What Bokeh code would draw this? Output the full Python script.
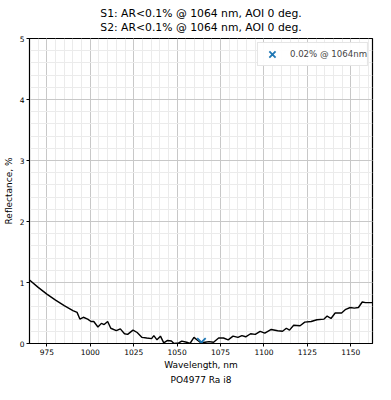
from bokeh.plotting import figure
from bokeh.models import Title, SingleIntervalTicker, Range1d
from bokeh.embed import file_html
from bokeh.resources import INLINE

title_line1 = "S1: AR<0.1% @ 1064 nm, AOI 0 deg."
title_line2 = "S2: AR<0.1% @ 1064 nm, AOI 0 deg."
footer = "PO4977 Ra i8"
x_label = "Wavelength, nm"
y_label = "Reflectance, %"

wavelength = [965, 970, 975, 980, 985, 990, 992.4, 994, 996, 998.5, 1000.4, 1002,
              1004.4, 1006.4, 1008, 1010, 1011.8, 1015, 1017.3, 1019.7, 1021.5,
              1024.6, 1027, 1029.8, 1032.5, 1035.3, 1036.6, 1038.4, 1040.4, 1042.3,
              1044.5, 1046.7, 1048.2, 1050.9, 1052.7, 1055.5, 1057.4, 1059.7, 1061.9,
              1063.8, 1066, 1068.4, 1071, 1073.9, 1076.7, 1079.4, 1082.2, 1085,
              1087.3, 1089.5, 1092.3, 1095, 1097.8, 1100.5, 1104.2, 1107.9, 1110.7,
              1112.9, 1114.7, 1117.1, 1120.8, 1123.5, 1127.2, 1130.5, 1134.6, 1136.4,
              1138.6, 1141, 1144.7, 1147.1, 1149.7, 1152, 1154.4, 1156.6, 1158.5, 1162.2]
reflectance = [1.04, 0.92, 0.81, 0.71, 0.62, 0.54, 0.51, 0.40, 0.43, 0.40, 0.36, 0.36,
               0.27, 0.33, 0.31, 0.36, 0.25, 0.21, 0.24, 0.16, 0.15,
               0.22, 0.18, 0.10, 0.09, 0.08, 0.13, 0.06, 0.12, 0.01,
               0.05, 0.04, 0.00, 0.01, 0.04, 0.02, 0.00, 0.10, 0.05,
               0.01, 0.02, 0.03, 0.02, 0.09, 0.09, 0.06, 0.12, 0.10,
               0.13, 0.11, 0.16, 0.15, 0.20, 0.17, 0.23, 0.21, 0.20,
               0.25, 0.22, 0.30, 0.29, 0.35, 0.36, 0.39, 0.40, 0.45,
               0.41, 0.50, 0.50, 0.56, 0.59, 0.58, 0.59, 0.68, 0.67, 0.67]

marker_x = [1064]
marker_y = [0.02]
marker_label = "0.02% @ 1064nm"

FONT = "DejaVu Sans"

p = figure(width=375, height=384, output_backend="svg", toolbar_location=None,
           x_range=Range1d(965, 1162.5), y_range=Range1d(0, 5),
           min_border_left=0, min_border_right=3, min_border_top=0, min_border_bottom=0)

p.add_layout(Title(text=title_line1 + "\n" + title_line2, align="center",
                   text_font_size="10.8px", text_line_height=1.1,
                   text_font_style="normal", text_font=FONT, text_color="#000000",
                   standoff=9), "above")
p.add_layout(Title(text=footer, align="center", text_font_size="9px",
                   text_font_style="normal", text_font=FONT, text_color="#000000",
                   standoff=0), "below")

p.line(wavelength, reflectance, line_color="black", line_width=1.4)
p.scatter(marker_x, marker_y, marker="x", size=12, line_color="#1f77b4",
          line_width=1.8, legend_label=marker_label)

p.xaxis.ticker = SingleIntervalTicker(interval=25, num_minor_ticks=5)
p.yaxis.ticker = SingleIntervalTicker(interval=1, num_minor_ticks=5)
p.xaxis.axis_label = x_label
p.yaxis.axis_label = y_label
for ax in (p.xaxis, p.yaxis):
    ax.axis_label_text_font = FONT
    ax.axis_label_text_font_size = "9px"
    ax.axis_label_text_font_style = "normal"
    ax.axis_label_text_color = "black"
    ax.axis_label_standoff = 3
    ax.major_label_text_font = FONT
    ax.major_label_text_font_size = "7.5px"
    ax.major_label_text_color = "black"
    ax.major_tick_out = 3
    ax.major_tick_in = 0
    ax.minor_tick_out = 0
    ax.minor_tick_in = 0
    ax.axis_line_color = "black"
    ax.major_label_standoff = 2
p.xaxis.axis_label_standoff = 2

p.xgrid.grid_line_color = "#c8c8c8"
p.ygrid.grid_line_color = "#c8c8c8"
p.xgrid.minor_grid_line_color = "#ebebeb"
p.ygrid.minor_grid_line_color = "#ebebeb"
p.outline_line_color = "black"
p.outline_line_width = 1.2

p.legend.location = "top_right"
p.legend.label_text_font = FONT
p.legend.label_text_font_size = "8.6px"
p.legend.border_line_color = "#cccccc"
p.legend.margin = 4
p.legend.padding = 0
p.legend.label_height = 20
p.legend.glyph_height = 22
p.legend.glyph_width = 28
p.legend.label_standoff = 4
p.legend.spacing = 0

open("out.html", "w").write(file_html(p, INLINE))
